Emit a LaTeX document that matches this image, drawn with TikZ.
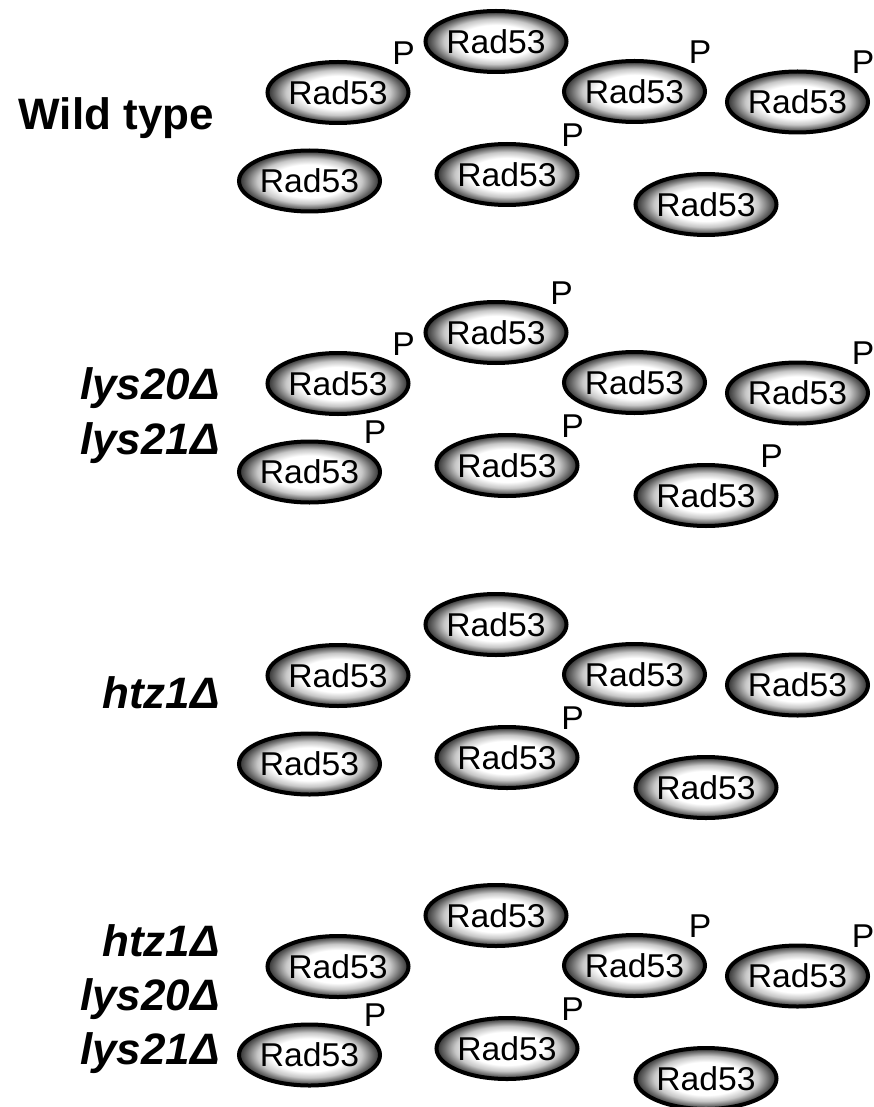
\documentclass[tikz,border=0pt]{standalone}
\usepackage{fontspec}
\usepackage{graphicx}
\setmainfont{Liberation Sans}
\usetikzlibrary{shapes.geometric}

% white core, darkening towards the rim of each protein blob
\pgfdeclareradialshading{rimshade}{\pgfpoint{0bp}{0bp}}{%
  color(0bp)=(white); color(13.5bp)=(white); color(18.5bp)=(black!22);
  color(22.5bp)=(black!60); color(25bp)=(black!82); color(50bp)=(black!82)}

\newcommand\protfont{\fontsize{33}{38}\selectfont}
\newcommand\wtfont{\fontsize{44}{50}\selectfont\bfseries}
\newcommand\mutfont{\fontsize{44}{50}\selectfont\bfseries\itshape}
\newcommand\stretched[1]{\scalebox{1.02}[1]{#1}}

\tikzset{
  prot/.style={ellipse, draw=black, line width=4pt, shading=rimshade,
    minimum width=141pt, minimum height=61pt, inner sep=0pt, font=\protfont},
  phosp/.style={inner sep=0pt, font=\protfont},
  wtlabel/.style={anchor=base east, inner sep=0pt, font=\wtfont},
  mutlabel/.style={anchor=base east, inner sep=0pt, font=\mutfont},
}

% seven Rad53 molecules of one strain, #1 = name prefix, #2 = vertical offset
\newcommand\mkring[2]{%
  \begin{scope}[shift={(0,#2)}]
    \node[prot] (#1a) at (338,92.5)   {\stretched{Rad53}};
    \node[prot] (#1b) at (496,41.5)   {\stretched{Rad53}};
    \node[prot] (#1c) at (634.5,91.5) {\stretched{Rad53}};
    \node[prot] (#1d) at (797.5,102)  {\stretched{Rad53}};
    \node[prot] (#1e) at (309.5,181)  {\stretched{Rad53}};
    \node[prot] (#1f) at (507,174.5)  {\stretched{Rad53}};
    \node[prot] (#1g) at (706,204.5)  {\stretched{Rad53}};
  \end{scope}}

% phosphate mark at the upper right of a molecule
\newcommand\addP[1]{%
  \node[phosp] (#1P) at ([shift={(65.5,-39.5)}]#1.center) {\stretched{P}};}

\begin{document}
\begin{tikzpicture}[x=1pt, y=-1pt]
  \fill[white] (0,0) rectangle (874,1107);
  \useasboundingbox (0,0) rectangle (874,1107);

  % wild type
  \mkring{wt}{0}
  \addP{wta}\addP{wtc}\addP{wtd}\addP{wtf}
  \node[wtlabel] (wtname) at (214,130) {Wild type};

  % lys20 lys21
  \mkring{ly}{291}
  \addP{lyb}\addP{lya}\addP{lyd}\addP{lye}\addP{lyf}\addP{lyg}
  \node[mutlabel] (lyname1) at (220,399) {lys20Δ};
  \node[mutlabel] (lyname2) at (220,454) {lys21Δ};

  % htz1
  \mkring{hz}{583}
  \addP{hzf}
  \node[mutlabel] (hzname) at (220,708) {htz1Δ};

  % htz1 lys20 lys21
  \mkring{tr}{874}
  \addP{trc}\addP{trd}\addP{tre}\addP{trf}
  \node[mutlabel] (trname1) at (220,956) {htz1Δ};
  \node[mutlabel] (trname2) at (220,1010) {lys20Δ};
  \node[mutlabel] (trname3) at (220,1064) {lys21Δ};
\end{tikzpicture}
\end{document}
